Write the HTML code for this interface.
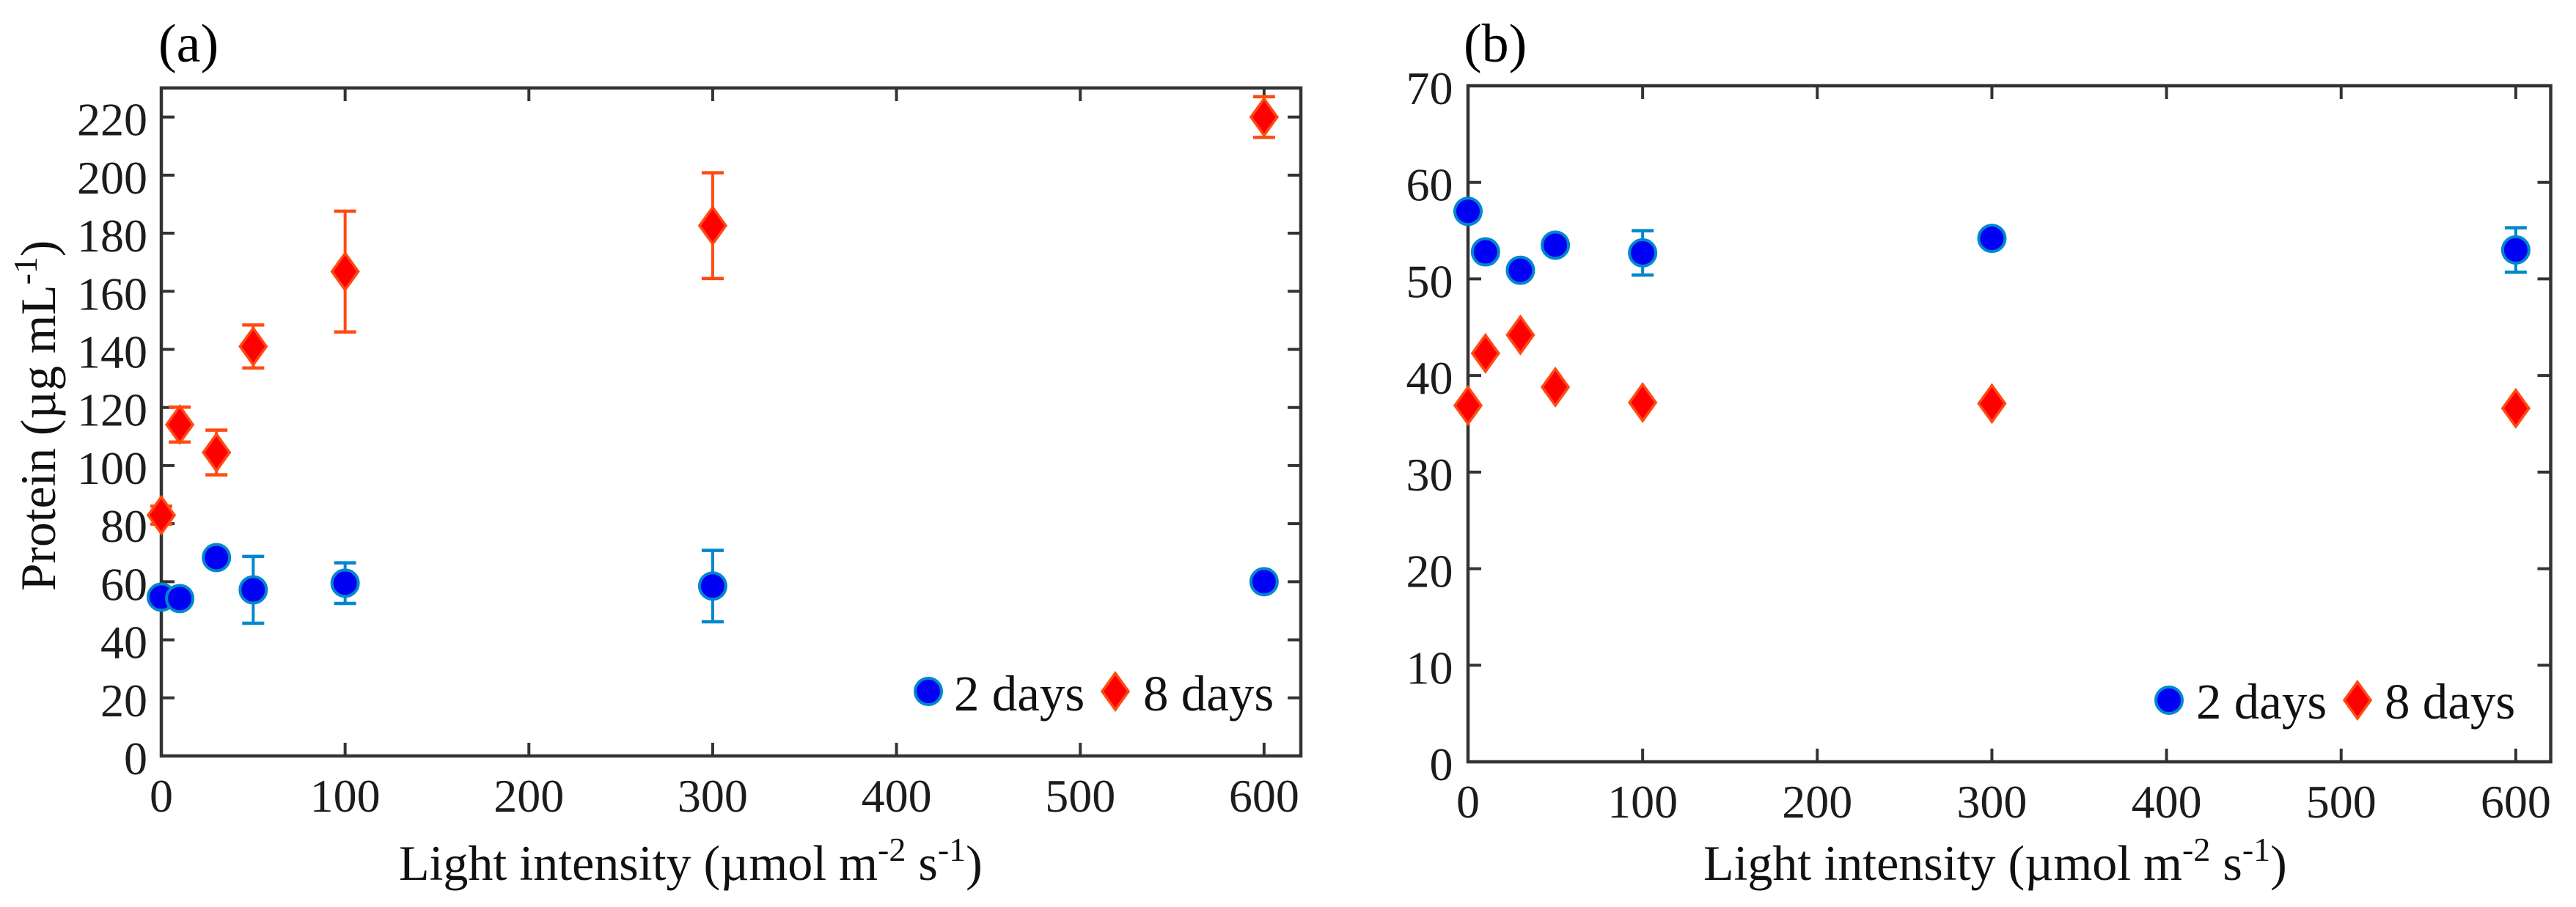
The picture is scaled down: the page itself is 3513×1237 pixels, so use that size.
<!DOCTYPE html>
<html lang="en">
<head>
<meta charset="utf-8">
<title>Protein vs light intensity</title>
<style>
  html, body { margin: 0; padding: 0; background: #fff; }
  #figure { display: block; width: 3513px; height: 1237px; background: #fff; }
  text { font-family: "Liberation Serif", serif; fill: #1c1c1c; }
  .tick-label { font-size: 64px; }
  .legend-label { font-size: 69px; fill: #111; }
  .axis-title { font-size: 68px; fill: #111; }
  .panel-label { font-size: 74px; fill: #000; }
</style>
</head>
<body>
<svg id="figure" xmlns="http://www.w3.org/2000/svg" width="3513" height="1237" viewBox="0 0 3513 1237">
  <g id="panel-a">
    <text class="panel-label" x="216" y="84">(a)</text>
    <text class="axis-title" x="544" y="1200">Light intensity (µmol m<tspan font-size="46" dy="-26">-2</tspan><tspan dy="26"> s</tspan><tspan font-size="46" dy="-26">-1</tspan><tspan dy="26">)</tspan></text>
    <text class="axis-title" style="font-size:67.5px" transform="translate(75,806) rotate(-90)" x="0" y="0">Protein (µg mL<tspan font-size="46" dy="-25">-1</tspan><tspan dy="25">)</tspan></text>
  </g>
  <g id="panel-b">
    <text class="panel-label" x="1996" y="84">(b)</text>
    <text class="axis-title" x="2323" y="1200">Light intensity (µmol m<tspan font-size="46" dy="-26">-2</tspan><tspan dy="26"> s</tspan><tspan font-size="46" dy="-26">-1</tspan><tspan dy="26">)</tspan></text>
  </g>
</svg>
<script>
// Shared x values (light intensity)
const lightIntensity = [0, 10, 30, 50, 100, 300, 600];
const xTickLabels = [0, 100, 200, 300, 400, 500, 600];

// Panel (a): protein
const panelAYTicks = [0, 20, 40, 60, 80, 100, 120, 140, 160, 180, 200, 220];
const panelATwoDays = [54.7, 54.2, 68.3, 57.2, 59.5, 58.5, 60];
const panelATwoDaysErr = [0, 0, 0, 11.5, 7, 12.3, 0];
const panelAEightDays = [82.9, 114.1, 104.5, 141, 166.8, 182.6, 220];
const panelAEightDaysErr = [3.1, 6, 7.7, 7.4, 20.8, 18.2, 7];

// Panel (b)
const panelBYTicks = [0, 10, 20, 30, 40, 50, 60, 70];
const panelBTwoDays = [57, 52.8, 50.9, 53.5, 52.7, 54.2, 53];
const panelBTwoDaysErr = [0, 0, 0, 0, 2.3, 0, 2.3];
const panelBEightDays = [36.9, 42.3, 44.2, 38.8, 37.2, 37.1, 36.6];
const panelBEightDaysErr = [0, 0.4, 0.4, 0.4, 0, 0, 0];

const NS = 'http://www.w3.org/2000/svg';
const AXIS = '#333333';
const BLUE_EDGE = '#0088cc';
const BLUE_FILL = '#0000f2';
const RED_EDGE = '#ff4a12';
const RED_FILL = '#ff0000';

function make(tag, attrs, parent) {
  const el = document.createElementNS(NS, tag);
  for (const k in attrs) el.setAttribute(k, attrs[k]);
  parent.appendChild(el);
  return el;
}
function diamondPoints(cx, cy) {
  return [cx, cy - 25, cx + 18, cy, cx, cy + 25, cx - 18, cy].join(',');
}

function drawPanel(root, box, xMax, yMax, yTicks, series2, err2, series8, err8, legend) {
  const xPos = v => box.left + (v / xMax) * (box.right - box.left);
  const yPos = v => box.bottom - (v / yMax) * (box.bottom - box.top);

  // ticks
  xTickLabels.forEach(v => {
    const px = xPos(v);
    if (v !== 0) {
      const t1 = make('line', { x1: px, x2: px, y1: box.top, y2: box.top + 18, stroke: AXIS, 'stroke-width': 4 }, root);
      
      
      const t2 = make('line', { x1: px, x2: px, y1: box.bottom, y2: box.bottom - 18, stroke: AXIS, 'stroke-width': 4 }, root);
      
      
    }
    const lab = make('text', { x: px, y: box.xLabelY, 'text-anchor': 'middle', class: 'tick-label' }, root);
    lab.textContent = v;
    
    
  });
  yTicks.forEach(v => {
    const py = yPos(v);
    if (v !== 0 && v !== yMax) {
      const t1 = make('line', { x1: box.left, x2: box.left + 18, y1: py, y2: py, stroke: AXIS, 'stroke-width': 4 }, root);
      
      
      const t2 = make('line', { x1: box.right, x2: box.right - 18, y1: py, y2: py, stroke: AXIS, 'stroke-width': 4 }, root);
      
      
    }
    const lab = make('text', { x: box.yLabelX, y: py + 25, 'text-anchor': 'end', class: 'tick-label' }, root);
    lab.textContent = v;
    
    
  });

  // frame
  const frame = make('rect', { x: box.left, y: box.top, width: box.right - box.left, height: box.bottom - box.top, fill: 'none', stroke: AXIS, 'stroke-width': 4.5 }, root);
  
  

  // error bars
  function errorBar(x, val, e, color, parent) {
    const px = xPos(x), hi = yPos(val + e), lo = yPos(val - e);
    make('line', { x1: px, x2: px, y1: hi, y2: lo, stroke: color, 'stroke-width': 4 }, parent);
    make('line', { x1: px - 15, x2: px + 15, y1: hi, y2: hi, stroke: color, 'stroke-width': 4.5 }, parent);
    make('line', { x1: px - 15, x2: px + 15, y1: lo, y2: lo, stroke: color, 'stroke-width': 4.5 }, parent);
  }

  // 8-day series first, then 2-day
  lightIntensity.forEach((x, i) => {
    const g = make('g', {}, root);
    
    
    if (err8[i] > 0) errorBar(x, series8[i], err8[i], RED_EDGE, g);
    make('polygon', { points: diamondPoints(xPos(x), yPos(series8[i])), fill: RED_FILL, stroke: RED_EDGE, 'stroke-width': 3.5 }, g);
  });
  lightIntensity.forEach((x, i) => {
    const g = make('g', {}, root);
    
    
    if (err2[i] > 0) errorBar(x, series2[i], err2[i], BLUE_EDGE, g);
    make('ellipse', { cx: xPos(x), cy: yPos(series2[i]), rx: 18, ry: 18, fill: BLUE_FILL, stroke: BLUE_EDGE, 'stroke-width': 4 }, g);
  });

  // legend
  const lg = make('g', {}, root);
  
  
  const m1 = make('ellipse', { cx: legend.circleX, cy: legend.y, rx: 18, ry: 18, fill: BLUE_FILL, stroke: BLUE_EDGE, 'stroke-width': 4 }, lg);
  
  
  const t1 = make('text', { x: legend.text1X, y: legend.baseline, class: 'legend-label' }, lg);
  t1.textContent = '2 days';
  
  
  const m2 = make('polygon', { points: diamondPoints(legend.diamondX, legend.y), fill: RED_FILL, stroke: RED_EDGE, 'stroke-width': 3.5 }, lg);
  
  
  const t2 = make('text', { x: legend.text2X, y: legend.baseline, class: 'legend-label' }, lg);
  t2.textContent = '8 days';
  
  
}

drawPanel(document.getElementById('panel-a'),
  { left: 220, right: 1774, top: 120, bottom: 1031, xLabelY: 1107, yLabelX: 201 },
  620, 230, panelAYTicks, panelATwoDays, panelATwoDaysErr, panelAEightDays, panelAEightDaysErr,
  { circleX: 1266, diamondX: 1521, y: 943, text1X: 1301, text2X: 1559, baseline: 969 });

drawPanel(document.getElementById('panel-b'),
  { left: 2002, right: 3478.5, top: 117, bottom: 1039, xLabelY: 1115, yLabelX: 1981.5 },
  620, 70, panelBYTicks, panelBTwoDays, panelBTwoDaysErr, panelBEightDays, panelBEightDaysErr,
  { circleX: 2958, diamondX: 3215, y: 955, text1X: 2995, text2X: 3252, baseline: 980 });
</script>
</body>
</html>
